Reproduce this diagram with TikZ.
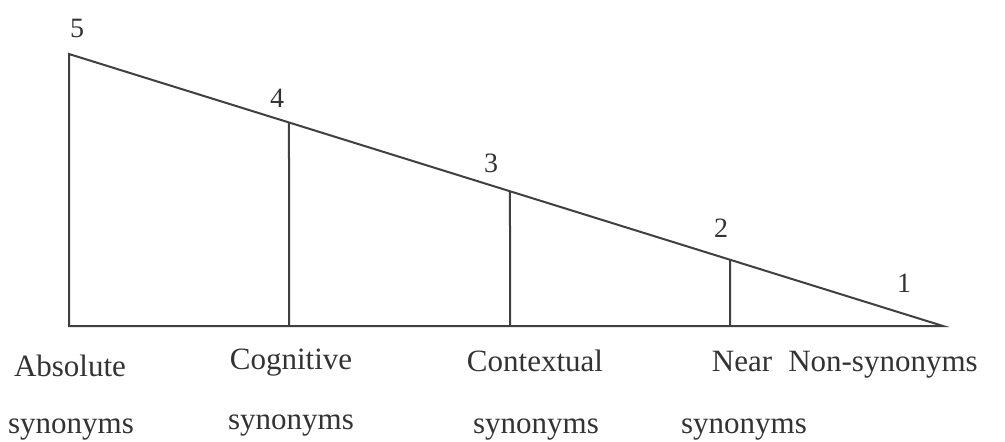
\documentclass[tikz,border=0pt]{standalone}
\usepackage{fontspec}
\setmainfont{Liberation Serif}
\usetikzlibrary{calc}
\tikzset{
  scaleline/.style = {draw = black!75, line width = 1pt},
  level/.style = {inner sep = 0pt, anchor = base, text = black!80,
    font = \fontsize{14}{16}\selectfont},
  kind/.style = {inner sep = 0pt, anchor = base, text = black!80,
    font = \fontsize{15.5}{18}\selectfont}
}
\def \width {874}

\begin{document}
\begin{tikzpicture}[x = 0.5pt, y = -0.5pt]
\useasboundingbox (0,0) rectangle (1005,441);

%% Triangle
\coordinate (top) at (69,54);
\coordinate (corner) at (69,326);
\coordinate (tip) at (943,326);
\draw [scaleline] (top) -- (corner) -- (tip) -- cycle;

%% Dividers
\foreach \x/\n in {289/4, 510/3, 730/2} {
  \coordinate (foot\n) at (\x,326);
  \coordinate (head\n) at ($(top) !{(\x-69)/\width}! (tip)$);
  \draw [scaleline] (foot\n) -- (head\n);
}

%% Degrees
\foreach \x/\y/\n in {77/37/5, 277/107/4, 491/172/3, 721/237/2, 904/292/1}
  \node [level] (deg\n) at (\x,\y) {\n};

%% Kinds of synonyms
\foreach \name/\x/\y/\word in {abs/70/376/Absolute, cog/291/369/Cognitive,
    con/535/371/Contextual, near/742/371/Near, non/883/371/Non-synonyms}
  \node [kind] (\name) at (\x,\y) {\word};
\foreach \name/\x/\y in {abs/71/433, cog/291/429, con/536/433, near/744/433}
  \node [kind] (\name syn) at (\x,\y) {synonyms};

\end{tikzpicture}
\end{document}
